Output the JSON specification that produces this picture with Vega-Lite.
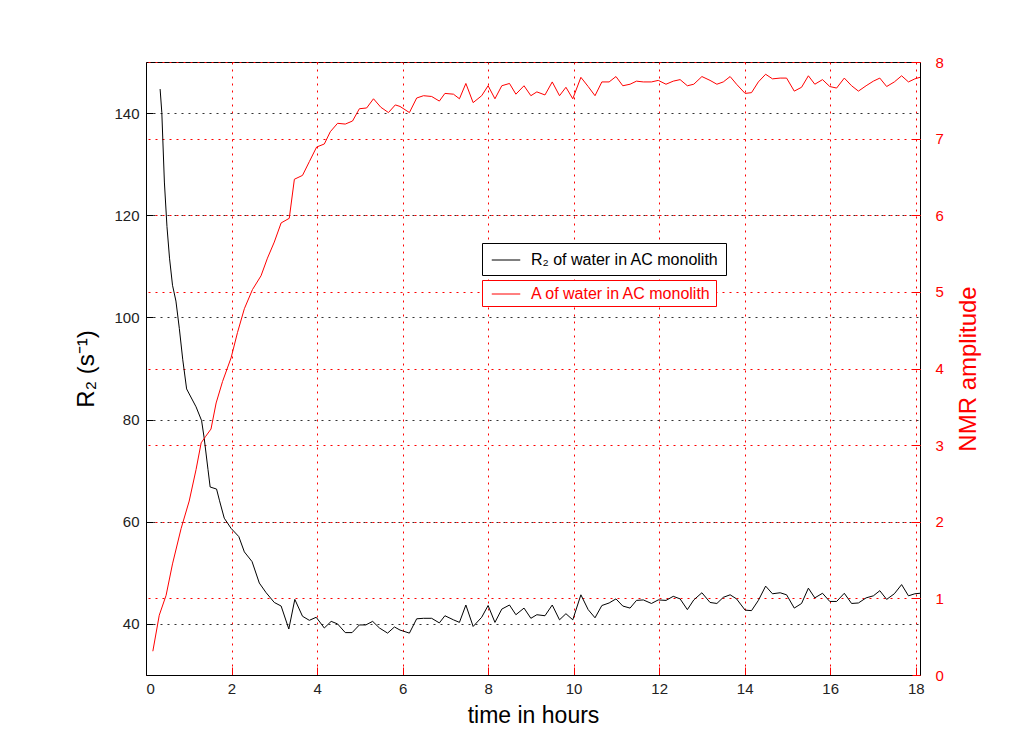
{
  "$schema": "https://vega.github.io/schema/vega-lite/v6.json",
  "width": 774,
  "height": 613,
  "autosize": {"type": "none"},
  "padding": {"left": 146, "top": 62, "right": 97, "bottom": 79},
  "background": "white",
  "config": {
    "font": "Liberation Sans",
    "view": {"stroke": "black", "strokeWidth": 1},
    "axis": {"titleFontWeight": "normal", "labelFont": "Liberation Sans", "titleFont": "Liberation Sans"},
    "legend": {"labelFont": "Liberation Sans"}
  },
  "datasets": {
    "r2": [
      {"t": 0.33, "R2": 144.7}, {"t": 0.37, "R2": 140.1}, {"t": 0.43, "R2": 126.5}, {"t": 0.49, "R2": 117.8},
      {"t": 0.55, "R2": 111.6}, {"t": 0.62, "R2": 106.3}, {"t": 0.70, "R2": 103.2}, {"t": 0.78, "R2": 97.8},
      {"t": 0.86, "R2": 91.7}, {"t": 0.95, "R2": 86.0}, {"t": 1.00, "R2": 85.2}, {"t": 1.17, "R2": 82.5},
      {"t": 1.30, "R2": 79.8}, {"t": 1.36, "R2": 76.4}, {"t": 1.45, "R2": 70.2}, {"t": 1.50, "R2": 66.8},
      {"t": 1.65, "R2": 66.4}, {"t": 1.72, "R2": 64.1}, {"t": 1.83, "R2": 60.7}, {"t": 1.99, "R2": 58.7},
      {"t": 2.17, "R2": 57.1}, {"t": 2.30, "R2": 54.1}, {"t": 2.48, "R2": 52.2}, {"t": 2.65, "R2": 48.0},
      {"t": 2.81, "R2": 46.1}, {"t": 3.00, "R2": 44.2}, {"t": 3.16, "R2": 43.5}, {"t": 3.34, "R2": 39.0},
      {"t": 3.48, "R2": 44.8}, {"t": 3.66, "R2": 41.5}, {"t": 3.82, "R2": 40.7}, {"t": 3.98, "R2": 41.3},
      {"t": 4.17, "R2": 39.2}, {"t": 4.33, "R2": 40.5}, {"t": 4.48, "R2": 40.0}, {"t": 4.66, "R2": 38.3},
      {"t": 4.82, "R2": 38.3}, {"t": 4.99, "R2": 39.8}, {"t": 5.14, "R2": 39.8}, {"t": 5.30, "R2": 40.5},
      {"t": 5.46, "R2": 39.2}, {"t": 5.65, "R2": 38.2}, {"t": 5.81, "R2": 39.4}, {"t": 5.94, "R2": 38.8},
      {"t": 6.16, "R2": 38.2}, {"t": 6.33, "R2": 41.0}, {"t": 6.49, "R2": 41.1}, {"t": 6.68, "R2": 41.1},
      {"t": 6.86, "R2": 40.2}, {"t": 6.99, "R2": 41.6}, {"t": 7.19, "R2": 40.8}, {"t": 7.33, "R2": 40.3},
      {"t": 7.48, "R2": 43.7}, {"t": 7.65, "R2": 39.5}, {"t": 7.85, "R2": 41.3}, {"t": 8.00, "R2": 43.6},
      {"t": 8.16, "R2": 40.3}, {"t": 8.32, "R2": 42.9}, {"t": 8.50, "R2": 43.7}, {"t": 8.65, "R2": 41.8},
      {"t": 8.84, "R2": 43.1}, {"t": 9.00, "R2": 41.1}, {"t": 9.14, "R2": 41.8}, {"t": 9.33, "R2": 41.6},
      {"t": 9.50, "R2": 43.7}, {"t": 9.67, "R2": 40.8}, {"t": 9.82, "R2": 42.0}, {"t": 9.98, "R2": 40.8},
      {"t": 10.17, "R2": 45.7}, {"t": 10.34, "R2": 42.8}, {"t": 10.50, "R2": 41.2}, {"t": 10.66, "R2": 43.6},
      {"t": 10.83, "R2": 44.1}, {"t": 10.99, "R2": 44.9}, {"t": 11.15, "R2": 43.5}, {"t": 11.32, "R2": 43.1},
      {"t": 11.47, "R2": 44.6}, {"t": 11.63, "R2": 44.7}, {"t": 11.82, "R2": 44.0}, {"t": 11.98, "R2": 44.7},
      {"t": 12.16, "R2": 44.6}, {"t": 12.33, "R2": 45.4}, {"t": 12.49, "R2": 44.9}, {"t": 12.66, "R2": 42.8},
      {"t": 12.81, "R2": 44.7}, {"t": 13.00, "R2": 46.1}, {"t": 13.19, "R2": 44.2}, {"t": 13.35, "R2": 44.0},
      {"t": 13.50, "R2": 45.2}, {"t": 13.66, "R2": 45.7}, {"t": 13.81, "R2": 44.9}, {"t": 14.01, "R2": 42.7},
      {"t": 14.16, "R2": 42.6}, {"t": 14.32, "R2": 44.6}, {"t": 14.49, "R2": 47.4}, {"t": 14.65, "R2": 45.9},
      {"t": 14.83, "R2": 46.1}, {"t": 14.98, "R2": 45.7}, {"t": 15.16, "R2": 43.1}, {"t": 15.33, "R2": 44.0},
      {"t": 15.49, "R2": 47.0}, {"t": 15.64, "R2": 45.1}, {"t": 15.82, "R2": 46.0}, {"t": 15.99, "R2": 44.4},
      {"t": 16.15, "R2": 44.4}, {"t": 16.33, "R2": 46.0}, {"t": 16.50, "R2": 44.0}, {"t": 16.66, "R2": 44.1},
      {"t": 16.84, "R2": 45.1}, {"t": 17.01, "R2": 45.5}, {"t": 17.16, "R2": 46.5}, {"t": 17.32, "R2": 44.8},
      {"t": 17.50, "R2": 45.9}, {"t": 17.67, "R2": 47.7}, {"t": 17.83, "R2": 45.5}, {"t": 17.98, "R2": 45.9},
      {"t": 18.10, "R2": 46.0}
    ],
    "amp": [
      {"t": 0.16, "A": 0.31}, {"t": 0.31, "A": 0.78}, {"t": 0.47, "A": 1.04}, {"t": 0.62, "A": 1.45},
      {"t": 0.82, "A": 1.91}, {"t": 1.01, "A": 2.27}, {"t": 1.17, "A": 2.68}, {"t": 1.29, "A": 3.03},
      {"t": 1.39, "A": 3.11}, {"t": 1.52, "A": 3.21}, {"t": 1.64, "A": 3.55}, {"t": 1.79, "A": 3.83},
      {"t": 1.99, "A": 4.14}, {"t": 2.14, "A": 4.47}, {"t": 2.30, "A": 4.78}, {"t": 2.49, "A": 5.03},
      {"t": 2.69, "A": 5.21}, {"t": 2.84, "A": 5.44}, {"t": 3.00, "A": 5.65}, {"t": 3.16, "A": 5.90},
      {"t": 3.35, "A": 5.96}, {"t": 3.47, "A": 6.47}, {"t": 3.66, "A": 6.52}, {"t": 3.82, "A": 6.70},
      {"t": 3.99, "A": 6.89}, {"t": 4.17, "A": 6.93}, {"t": 4.31, "A": 7.09}, {"t": 4.48, "A": 7.20},
      {"t": 4.66, "A": 7.19}, {"t": 4.83, "A": 7.23}, {"t": 4.99, "A": 7.39}, {"t": 5.16, "A": 7.40},
      {"t": 5.32, "A": 7.52}, {"t": 5.49, "A": 7.41}, {"t": 5.67, "A": 7.34}, {"t": 5.83, "A": 7.44},
      {"t": 5.94, "A": 7.42}, {"t": 6.16, "A": 7.34}, {"t": 6.33, "A": 7.53}, {"t": 6.49, "A": 7.56},
      {"t": 6.68, "A": 7.55}, {"t": 6.86, "A": 7.49}, {"t": 6.99, "A": 7.59}, {"t": 7.19, "A": 7.58},
      {"t": 7.33, "A": 7.52}, {"t": 7.48, "A": 7.72}, {"t": 7.65, "A": 7.47}, {"t": 7.85, "A": 7.56},
      {"t": 8.00, "A": 7.69}, {"t": 8.16, "A": 7.52}, {"t": 8.32, "A": 7.69}, {"t": 8.50, "A": 7.72},
      {"t": 8.65, "A": 7.58}, {"t": 8.84, "A": 7.69}, {"t": 9.00, "A": 7.56}, {"t": 9.14, "A": 7.61},
      {"t": 9.33, "A": 7.57}, {"t": 9.50, "A": 7.74}, {"t": 9.67, "A": 7.56}, {"t": 9.82, "A": 7.67},
      {"t": 9.98, "A": 7.52}, {"t": 10.17, "A": 7.80}, {"t": 10.34, "A": 7.68}, {"t": 10.50, "A": 7.56},
      {"t": 10.66, "A": 7.74}, {"t": 10.83, "A": 7.74}, {"t": 10.99, "A": 7.81}, {"t": 11.15, "A": 7.69},
      {"t": 11.32, "A": 7.71}, {"t": 11.47, "A": 7.75}, {"t": 11.63, "A": 7.74}, {"t": 11.82, "A": 7.74},
      {"t": 11.98, "A": 7.76}, {"t": 12.16, "A": 7.71}, {"t": 12.33, "A": 7.75}, {"t": 12.49, "A": 7.77},
      {"t": 12.66, "A": 7.69}, {"t": 12.81, "A": 7.71}, {"t": 13.00, "A": 7.81}, {"t": 13.19, "A": 7.76},
      {"t": 13.35, "A": 7.71}, {"t": 13.50, "A": 7.74}, {"t": 13.66, "A": 7.81}, {"t": 13.81, "A": 7.71},
      {"t": 14.01, "A": 7.59}, {"t": 14.16, "A": 7.60}, {"t": 14.32, "A": 7.74}, {"t": 14.49, "A": 7.84},
      {"t": 14.65, "A": 7.78}, {"t": 14.83, "A": 7.79}, {"t": 14.98, "A": 7.79}, {"t": 15.16, "A": 7.62},
      {"t": 15.33, "A": 7.67}, {"t": 15.49, "A": 7.82}, {"t": 15.64, "A": 7.71}, {"t": 15.82, "A": 7.77},
      {"t": 15.99, "A": 7.68}, {"t": 16.15, "A": 7.66}, {"t": 16.33, "A": 7.79}, {"t": 16.50, "A": 7.69},
      {"t": 16.66, "A": 7.62}, {"t": 16.84, "A": 7.69}, {"t": 17.01, "A": 7.75}, {"t": 17.16, "A": 7.79},
      {"t": 17.32, "A": 7.68}, {"t": 17.50, "A": 7.74}, {"t": 17.67, "A": 7.82}, {"t": 17.83, "A": 7.74},
      {"t": 17.98, "A": 7.78}, {"t": 18.10, "A": 7.80}
    ]
  },
  "layer": [
    {
      "data": {"name": "r2"},
      "mark": {"type": "line", "strokeWidth": 1},
      "encoding": {
        "x": {
          "field": "t", "type": "quantitative",
          "scale": {"domain": [0, 18.1], "nice": false, "zero": false},
          "axis": {
            "values": [0, 2, 4, 6, 8, 10, 12, 14, 16, 18],
            "format": "d",
            "grid": true, "gridColor": "#ff0000", "gridDash": [2, 5], "gridWidth": 1,
            "tickColor": "#ff0000", "tickSize": -8, "tickWidth": 1,
            "domainColor": "black",
            "labelColor": "#222222", "labelFontSize": 15, "labelPadding": 14,
            "title": "time in hours", "titleFontSize": 23, "titleColor": "black", "titlePadding": 8
          }
        },
        "y": {
          "field": "R2", "type": "quantitative",
          "scale": {"domain": [30, 150], "nice": false, "zero": false},
          "axis": {
            "orient": "left",
            "values": [40, 60, 80, 100, 120, 140],
            "grid": true, "gridColor": "#333333", "gridDash": [2, 5], "gridWidth": 1,
            "tickColor": "black", "tickSize": -7,
            "domainColor": "black",
            "labelColor": "#222222", "labelFontSize": 15, "labelPadding": 14,
            "title": "R₂ (s⁻¹)", "titleFontSize": 24, "titleColor": "black", "titlePadding": 15
          }
        },
        "color": {
          "datum": "R₂ of water in AC monolith", "type": "nominal",
          "scale": {"range": ["#000000"]},
          "legend": {
            "orient": "none", "legendX": 336, "legendY": 181,
            "title": null,
            "strokeColor": "black", "fillColor": "white",
            "padding": 7, "symbolOffset": 7,
            "symbolType": "M-1.5,0L1.5,0", "symbolStrokeWidth": 1, "symbolSize": 361,
            "labelFontSize": 16, "labelColor": "black", "labelOffset": 15, "labelLimit": 400
          }
        }
      }
    },
    {
      "data": {"name": "amp"},
      "mark": {"type": "line", "strokeWidth": 1},
      "encoding": {
        "x": {"field": "t", "type": "quantitative"},
        "y": {
          "field": "A", "type": "quantitative",
          "scale": {"domain": [0, 8], "nice": false, "zero": false},
          "axis": {
            "orient": "right",
            "values": [0, 1, 2, 3, 4, 5, 6, 7, 8],
            "grid": true, "gridColor": "#ff0000", "gridDash": [2, 5], "gridWidth": 1,
            "tickColor": "#ff0000", "tickSize": -8,
            "domain": false,
            "labelColor": "#ff0000", "labelFontSize": 15, "labelPadding": 23,
            "title": "NMR amplitude", "titleFontSize": 24, "titleColor": "#ff0000",
            "titleAngle": 270, "titleBaseline": "top", "titlePadding": 13
          }
        },
        "color": {
          "datum": "A of water in AC monolith", "type": "nominal",
          "scale": {"range": ["#ff0000"]},
          "legend": {
            "orient": "none", "legendX": 336, "legendY": 218,
            "title": null,
            "strokeColor": "#ff0000", "fillColor": "white",
            "padding": 4, "symbolOffset": 10,
            "symbolType": "M-1.5,0L1.5,0", "symbolStrokeWidth": 1, "symbolSize": 361,
            "labelFontSize": 16, "labelColor": "#ff0000", "labelOffset": 15, "labelLimit": 400
          }
        }
      }
    }
  ],
  "resolve": {
    "scale": {"y": "independent", "color": "independent"},
    "legend": {"color": "independent"}
  }
}
